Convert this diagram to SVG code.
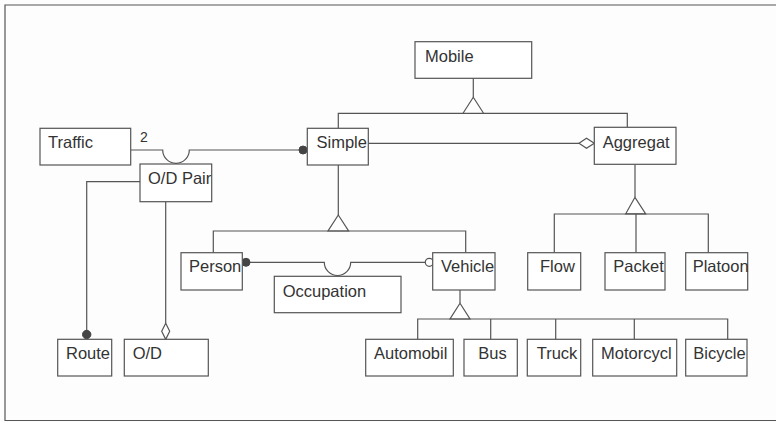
<svg xmlns="http://www.w3.org/2000/svg" width="776" height="422" viewBox="0 0 776 422">
<style>
.box{fill:#fff;stroke:#555;stroke-width:1.2}
.ln{fill:none;stroke:#555;stroke-width:1.2}
.tri{fill:#fff;stroke:#555;stroke-width:1.2}
.dot{fill:#444;stroke:#444;stroke-width:1}
.hol{fill:#fff;stroke:#555;stroke-width:1.2}
text{font-family:"Liberation Sans",Arial,sans-serif;font-size:16.5px;fill:#333}
.lbl{font-size:14px}
</style>
<rect width="776" height="422" fill="#fdfdfd"/>
<path class="ln" d="M776 5 H5 V420.5 H776" stroke="#666"/>
<g id="connectors">
  <path class="ln" d="M473.3 78.3 V97.3"/>
  <path class="ln" d="M338.3 128.3 V113.3 H627.3 V127.3"/>
  <polygon class="tri" points="473.3,97.3 463,113.3 483.6,113.3"/>
  <path class="ln" d="M368.3 143.3 H579"/>
  <polygon class="hol" points="579,143.3 586.5,138.3 594.3,143.3 586.5,148.3"/>
  <path class="ln" d="M130.7 150 H162.7 A13.2 13.2 0 0 0 189.3 150 H300"/>
  <circle class="dot" cx="303" cy="150" r="4"/>
  <text class="lbl" x="140" y="142">2</text>
  <path class="ln" d="M140 181.7 H86.7 V331"/>
  <circle class="dot" cx="86.7" cy="334.5" r="4.2"/>
  <path class="ln" d="M165.7 201.7 V323.3"/>
  <polygon class="hol" points="165.7,323.3 169.7,331.3 165.7,339.3 161.7,331.3"/>
  <path class="ln" d="M338.3 165 V215"/>
  <polygon class="tri" points="338.3,215 328,231 348.6,231"/>
  <path class="ln" d="M213.3 252.7 V231 H465.7 V252.7"/>
  <path class="ln" d="M246 262.3 H324.3 A13.2 13.2 0 0 0 350.7 262.3 H425.3"/>
  <circle class="dot" cx="246" cy="262.3" r="4"/>
  <circle class="hol" cx="429.3" cy="262.3" r="4"/>
  <path class="ln" d="M635 164.3 V197.3"/>
  <polygon class="tri" points="635,197.3 625.7,213.8 645.7,213.8"/>
  <path class="ln" d="M554.3 252.7 V214 H708.3 V252.7 M636 214 V252.7"/>
  <path class="ln" d="M460 290 V303.3"/>
  <polygon class="tri" points="460,303.3 450,319 470,319"/>
  <path class="ln" d="M417.7 339.3 V319 H727.7 V339.3 M490.7 319 V339.3 M555.7 319 V339.3 M634.3 319 V339.3"/>
</g>
<g id="mobile"><rect class="box" x="415" y="41.7" width="116.7" height="36.6"/><text x="425" y="62">Mobile</text></g>
<g id="traffic"><rect class="box" x="40" y="128.3" width="90.7" height="36.7"/><text x="48" y="148">Traffic</text></g>
<g id="odpair"><rect class="box" x="140" y="164" width="71.7" height="37.7"/><text x="148" y="184">O/D Pair</text></g>
<g id="simple"><rect class="box" x="307.3" y="128.3" width="61" height="36.7"/><text x="316.5" y="148">Simple</text></g>
<g id="aggregat"><rect class="box" x="594.3" y="127.3" width="81.7" height="37"/><text x="602.7" y="148">Aggregat</text></g>
<g id="person"><rect class="box" x="181" y="252.7" width="61.3" height="37.3"/><text x="189" y="272">Person</text></g>
<g id="occupation"><rect class="box" x="274.3" y="276.3" width="126.7" height="36.4"/><text x="282.7" y="296.5">Occupation</text></g>
<g id="vehicle"><rect class="box" x="432.7" y="252.7" width="62.3" height="37.3"/><text x="441" y="272">Vehicle</text></g>
<g id="flow"><rect class="box" x="527.7" y="252.7" width="53" height="37.3"/><text x="540" y="271.7">Flow</text></g>
<g id="packet"><rect class="box" x="605" y="252.7" width="60" height="37.3"/><text x="613.3" y="271.7">Packet</text></g>
<g id="platoon"><rect class="box" x="685.7" y="252.7" width="62" height="37.3"/><text x="692.7" y="271.7">Platoon</text></g>
<g id="route"><rect class="box" x="57.7" y="339.3" width="54" height="36.7"/><text x="66" y="359">Route</text></g>
<g id="od"><rect class="box" x="124.3" y="339.3" width="84" height="36.7"/><text x="132.7" y="359">O/D</text></g>
<g id="automobil"><rect class="box" x="365.7" y="339.3" width="87.6" height="36.7"/><text x="374" y="359">Automobil</text></g>
<g id="bus"><rect class="box" x="464" y="339.3" width="53.3" height="36.7"/><text x="478.3" y="359">Bus</text></g>
<g id="truck"><rect class="box" x="527.3" y="339.3" width="53.4" height="36.7"/><text x="536.7" y="359">Truck</text></g>
<g id="motorcycl"><rect class="box" x="592.7" y="339.3" width="84" height="36.7"/><text x="601" y="359">Motorcycl</text></g>
<g id="bicycle"><rect class="box" x="685.7" y="339.3" width="61.3" height="36.7"/><text x="693.3" y="359">Bicycle</text></g>
</svg>
